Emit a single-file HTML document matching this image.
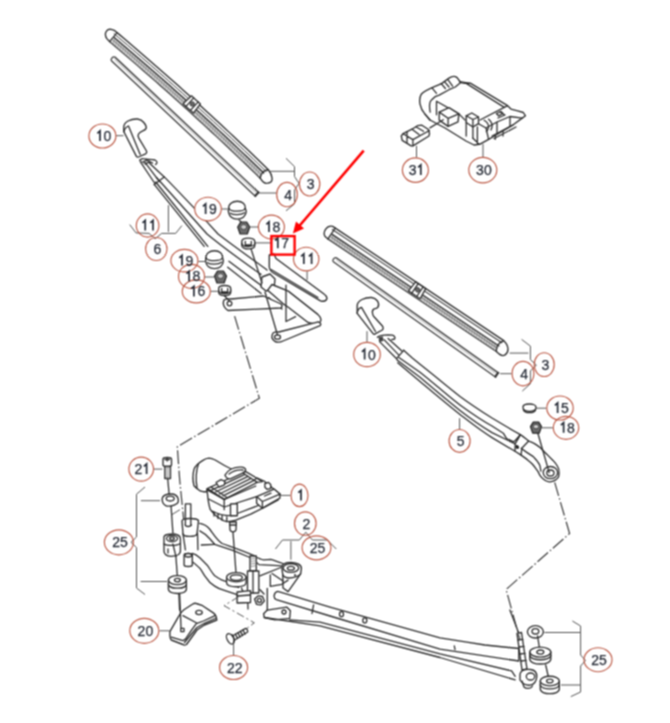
<!DOCTYPE html>
<html><head><meta charset="utf-8"><style>
html,body{margin:0;padding:0;background:#fff;}
svg{display:block;}
.lc{fill:none;stroke:#bc5a46;stroke-width:1.15;}
.lt{font-family:"Liberation Sans",sans-serif;font-size:14px;fill:#262b36;stroke:#262b36;stroke-width:0.25;text-anchor:middle;}
.l1{fill:none;stroke:#262b36;stroke-width:1.7;stroke-linejoin:miter;}
.ln{fill:none;stroke:#2e2e2e;stroke-width:1.3;stroke-linejoin:round;stroke-linecap:round;}
.hl{fill:none;stroke:#777;stroke-width:0.8;}
.wf{fill:#fff;stroke:#2e2e2e;stroke-width:1.35;stroke-linejoin:round;}
.ld{fill:none;stroke:#555;stroke-width:1;}
.dd{fill:none;stroke:#3a3a3a;stroke-width:1.2;stroke-dasharray:14 2.5 1.5 2.5;}
</style></head><body>
<svg width="670" height="723" viewBox="0 0 670 723">
<defs><filter id="soft" x="0" y="0" width="100%" height="100%" color-interpolation-filters="sRGB"><feConvolveMatrix order="3" kernelMatrix="1 2 1 2 4 2 1 2 1" divisor="16" edgeMode="duplicate"/></filter></defs>
<g filter="url(#soft)">
<rect width="670" height="723" fill="#fff"/>

<path class="wf" d="M424.8,113.9 C420,108 418,100 421.3,94.2 C425,90 432,88 441.9,83.4 L449,78.1 C452,76 455,76 457.1,77.6 L460.7,82.5 L465.1,83.4 L470.7,83.4 L507.6,105.7 L511,109.1 L517.7,110.8 L523.3,112.5 L525.5,115.8 L522.2,118.1 L513.2,124.8 L502,131.5 L488.6,139.3 L479.6,144.4 L474,145 L466,141 L445,128 L430,120 Z"/>
<path class="ln" d="M430.2,112.1 C429,106 430,101 432,99.5 C434,97 437,95.5 439.2,95.1 L449,89.7 L455.3,87 L460.7,82.5
M432,87.9 L436.5,93.3 M441,83.4 L445.4,88.5 M444.5,81.6 L449,87.0 M448.1,79.8 L452.6,86.1
M436.5,101.3 L458.9,113.9 L465.1,120.1 M436.5,101.3 L436.5,114.8 M424.8,113.9 L430,120
M466.2,83.4 L504.3,107.4 M459.5,81.7 L470.7,83.4 M504.3,107.4 L507.6,105.7
M504.3,107.4 L480,120 M500,112 L505,115 L498,118
M472.9,138.2 L479.6,144.4 M478.5,123.7 L486,128 L497,122 L510,116.5 L522.2,118.1
M486,128 L488.6,139.3 M497,122 L497,133 M510,116.5 L510,125.5 M477.4,127 L477.4,143.8"/>
<path class="wf" d="M439.2,112.1 L449,107.6 L458.9,113.9 L458,121.9 L448.1,126.4 L439.2,120.1 Z"/>
<path class="ln" d="M448.1,118.3 L448.1,126.4 M439.2,112.1 L448.1,118.3 L458.9,113.9"/>
<path class="wf" d="M466.2,115.8 L471.8,113 L478.5,117 L478.5,123.7 L472.9,127 L466.2,122.5 Z"/>
<path class="ln" d="M466.2,122.5 L466.2,136 M472.9,127 L472.9,138.2 M466.2,115.8 L472.9,119.5 L478.5,117 M472.9,119.5 L472.9,127"/>
<path class="ln" d="M429.9,127.9 L443.3,119.8"/>
<path class="wf" d="M401.3,136 L403.1,133.7 L412,129.2 L417.4,125.7 L421.9,125.2 L428.1,129.2 L429.5,133.3 L429,136 L412.9,145.8 L411.1,145.8 L402.2,140.4 Z"/>
<path class="ln" d="M403.1,133.7 L412.9,139.6 L429.5,130.5 M412.9,139.6 L412.9,145.8 M412,129.2 L419,134.5 M407,132 L407,142.5 M416.3,127 L423.5,131.3"/>
<path class="ln" d="M484.1,120.3 C487,122 488.6,124.5 488.6,127 C488.4,129 487.5,130.5 486.3,131.5 M488.6,119.2 C491,121 492.3,124 492,127 L491,130"/>
<path class="ln" d="M492,136 L513.2,124.8 M494,138.5 L516,127 M495.3,134.9 L495.3,139.3 M503,131.5 L503,136"/>
<path class="ln" d="M496.4,113.5 L501,111.5 L503,113.5 L498.5,115.8 Z"/>


<!-- hinge + front arm -->
<path class="ln" d="M139.8,160.7 C141,158.5 143,158.2 145,159 C148,159.4 152,159.2 155,160 C157.5,161 157.5,163.5 155.5,164.5 M143,162 C145,160 149,160 151,162.5 M146.5,163.5 C148,161.5 151,161.8 152.5,163"/>
<path class="ln" d="M140.4,161.9 L155.2,184 M144.6,161.9 L159.5,181.6 M149.3,163.1 L164,176.8 M154.1,184.6 L164.3,176.9"/>
<!-- main arm (curved) -->
<path class="ln" d="M164.3,176.9 C180,193 200,214 218,234 C235,247 252,259 267,270"/>
<path class="ln" d="M156.5,177.5 L207,234 C225,249 245,263 261,274.4 M155.7,182 L207.8,246.4 M154.4,184.6 L204.2,246.4"/>
<path class="ln" d="M228.9,261.3 L262.3,286.3 M227.7,267.2 L261.1,293.5"/>
<!-- pivot block -->
<path class="wf" d="M262,277 L270,274 L275,279 L274,288.7 L266,291 L261,287 Z"/>
<!-- bar 11 (upper) -->
<path class="wf" d="M269.3,255 L269.3,267 Q269.8,271 273.5,273 L320.5,300.8 Q325.5,302.5 327,298.5 Q326.5,295.5 324,294 L276,258.5 L274,254 Z"/>
<path class="ln" d="M271,269.5 L318,297.5"/>
<!-- arm end bar (lower) -->
<path class="wf" d="M272,284.5 L288.3,291.1 L317.8,314.4 Q322,318 320.5,321.5 Q318.5,324.5 314,323.8 L308,322.5 L288.3,307.2 L282.9,303.6 L267.7,290.2 Z"/>
<path class="ln" d="M268.6,297.4 L282,309"/>
<!-- vertical bracket lines -->
<path class="ln" d="M286,285.1 L286,321.5 L295.6,316.7"/>
<!-- pivot plate left -->
<path class="wf" d="M224,300 Q221.5,306 228,310.5 L281,308 Q283,306 281,304 L263.5,296 L231,299 Q226,298.5 224,300 Z"/>
<circle class="ln" cx="229.5" cy="303.5" r="2.3"/>
<!-- bottom plate -->
<path class="wf" d="M273,333 Q270,338 275,341.5 Q279,343 283,341 L320.1,325.7 Q322,323.5 318.3,321.8 L278.9,332 Q275.5,331.5 273,333 Z"/>
<ellipse class="ln" cx="277.5" cy="337" rx="3" ry="2.2"/>
<!-- rod lines -->
<path class="ln" d="M239,219.9 L241,222 M250.4,246.9 L262,283 M265,292 L277.5,335"/>
<path class="ln" d="M224.7,296 L229.5,301"/>
<g transform="translate(237.3,210.2) scale(1.0)"><path class="wf" d="M-8.5,-2 C-9,-6 -5,-9 0,-9 C5,-9 8.5,-6 8,-2 C9.5,1 9,4 6,7 C3,9.5 -3,9.5 -6,7 C-8.5,5 -9.5,1 -8.5,-2 Z"/><path class="ln" d="M-8.5,-2 C-7,2 7,2 8,-2 M-7,3 C-4,5 4,5 7,2.5"/></g>
<g transform="translate(243.7,228)"><path d="M-6,-1 L-3.0,-6 L3.0,-6 L6,-1 L3.5999999999999996,6 L-3.5999999999999996,6 Z" fill="#6a6a6a" stroke="#222" stroke-width="1.2" stroke-linejoin="round"/><ellipse cx="0" cy="-1" rx="3.0" ry="2.4000000000000004" fill="#ccc" stroke="#333" stroke-width="0.8"/></g>
<g transform="translate(248.3,243.5)"><path class="wf" d="M-6.5,-2 C-6.5,-6.5 6.5,-6.5 6.5,-2 L6.5,2 C6.5,6.5 -6.5,6.5 -6.5,2 Z" stroke-width="1.5"/><path class="ln" d="M-3,-2 L-3,1.5 L3,1.5 L3,-2 M-6.5,0 C-6.5,4 6.5,4 6.5,0" stroke-width="1.2"/></g>
<g transform="translate(214.5,259.7) scale(1.0)"><path class="wf" d="M-8.5,-2 C-9,-6 -5,-9 0,-9 C5,-9 8.5,-6 8,-2 C9.5,1 9,4 6,7 C3,9.5 -3,9.5 -6,7 C-8.5,5 -9.5,1 -8.5,-2 Z"/><path class="ln" d="M-8.5,-2 C-7,2 7,2 8,-2 M-7,3 C-4,5 4,5 7,2.5"/></g>
<g transform="translate(220.5,277)"><path d="M-6,-1 L-3.0,-6 L3.0,-6 L6,-1 L3.5999999999999996,6 L-3.5999999999999996,6 Z" fill="#6a6a6a" stroke="#222" stroke-width="1.2" stroke-linejoin="round"/><ellipse cx="0" cy="-1" rx="3.0" ry="2.4000000000000004" fill="#ccc" stroke="#333" stroke-width="0.8"/></g>
<g transform="translate(224.7,290.5)"><path class="wf" d="M-6,-2 C-6,-6 6,-6 6,-2 L6,2 C6,6 -6,6 -6,2 Z" stroke-width="1.5"/><path class="ln" d="M-3,-2 L-3,1.5 L3,1.5 L3,-2 M-6,0 C-6,4 6,4 6,0" stroke-width="1.2"/></g>


<path class="ln" d="M377.4,337.2 C379,335.5 382,335 388.1,334.8 C391,334.8 393.5,335.2 394.1,336 C395,337 395,338.5 394.7,339 L391.7,339.6"/>
<path d="M378.6,337 L383,336.6 L383.4,341 L379,342 Z" fill="#444"/>
<path class="ln" d="M379.8,341.9 L397.1,359.3 M384,339.6 L398.9,355.1 M388.1,338.4 L401.9,350.9 M396.5,358.7 L403.7,350.3"/>
<path class="ln" d="M403.7,350.3 L412,357.7 L420,364.2 C435,376 448,387 460,396.4 C471,404.5 481,411 492,418 C502,424 512,430 520.3,434.6"/>
<path class="ln" d="M398.9,357.5 L420,372.2 C435,384 448,396 460,405 C471,413 481,420 492,426 L503.3,433.2 L506.6,438.6 L513.9,441.9 L519.9,435.2"/>
<path class="ln" d="M397.1,359.9 L420,377.3 C435,390 448,401 460,410.5 C471,419 481,426 492,432.6 L515.2,443.9 L521.1,448.3"/>
<path class="ln" d="M397.7,362.8 L420,381.6 C435,394 448,405 460,414.5 C471,423 481,431 492,437.6 L515,451.3"/>
<path class="wf" d="M520.3,434.6 C524,437 526,439 528.7,441 C531,442 532,442.5 534,443.3 C536,444.5 538,446 540.1,447.5 C542,449.5 544,451.5 547,454.4 C549,456.5 551,458.5 553,460.4 C555,462.5 556.5,464.5 557.6,466.5 C558.8,468.5 559.3,470.5 559.1,472.6 C559,474.5 558.8,476 558.4,477.2 C557.5,478.5 556.5,479.5 555.3,480.2 C553.5,481.2 551,482 549.2,481.8 C547,481.5 545,480.5 543.9,479.5 C542.5,478.5 541,477 540.1,475.7 L537.8,471.1 C536,469 534.5,466.5 532.5,464.2 C531,462.5 529,461 526.4,458.9 L521.1,455.1 L515,451.3 L515.2,443.9 L517.3,439.9 Z"/>
<path class="ln" d="M521.1,448.3 L526.4,452.1 L533.3,456.6 C535,458.5 536.5,460 537.8,462 C539,463.5 539.8,465 540.1,466.5 L540.9,471.1"/>
<path class="ln" d="M520.3,434.6 L517.3,439.9 M528.7,441 L521.8,448.3 L521.1,455.1"/>
<path d="M516,445 C518,444.5 519.5,446 519,448 C518,449.5 516,449 515.5,447.5 Z" fill="#222"/>
<ellipse class="ln" cx="550.4" cy="472.6" rx="7.2" ry="6.1"/>
<ellipse class="ln" cx="550.4" cy="473" rx="3.6" ry="3"/>
<path class="ln" d="M537.8,433 L549.2,472.6"/>
<g transform="translate(529.5,408)"><path class="wf" d="M-6.5,-1 C-6.5,-5 6.5,-5 6.5,-1 L6,2 C5,5.5 -5,5.5 -6,2 Z" stroke-width="1.4"/><path class="ln" d="M-6,1.5 C-3,4 3,4 6,1.5"/></g>
<g transform="translate(536,427.6)"><path d="M-5.5,-1 L-2.75,-5.5 L2.75,-5.5 L5.5,-1 L3.3,5.5 L-3.3,5.5 Z" fill="#6a6a6a" stroke="#222" stroke-width="1.2" stroke-linejoin="round"/><ellipse cx="0" cy="-1" rx="2.75" ry="2.2" fill="#ccc" stroke="#333" stroke-width="0.8"/></g>


<!-- bolt 21 -->
<path class="wf" d="M163,459 C163,457 171.5,457 171.5,459 L171.5,465 C171.5,467 163,467 163,465 Z"/>
<path class="ln" d="M165,459.5 L169.5,459.5 M167.2,458 L167.2,461"/>
<path class="wf" d="M164.8,466.5 L170.5,466.5 L170.5,478.5 L164.8,478.5 Z"/>
<path class="hl" d="M164.8,469 L170.5,468 M164.8,471 L170.5,470 M164.8,473 L170.5,472 M164.8,475 L170.5,474 M164.8,477 L170.5,476"/>
<path class="ln" d="M167.7,478.5 L169.3,496"/>
<!-- grommet top left -->
<path class="wf" d="M162.2,498.4 C163,495 167,494 171.1,494 C174.5,494 177.5,495.5 178.3,499.3 C178.5,502 177.5,503.5 176.5,503.8 C174,506 168,506.8 165.7,505.6 C163.5,504.5 162,502 162.2,498.4 Z" stroke-width="1.6"/>
<ellipse class="ln" cx="170.2" cy="498.6" rx="4" ry="2.4"/>
<path class="ln" d="M171.1,506.5 L172.9,533"/>
<!-- rod/dash near -->
<!-- frame upper bar -->
<path class="ln" stroke-width="1.6" d="M199.8,523.4 C204,524 207,526 210,529.5 C214,535 217,540 222,543.5 C230,546.5 240,549.5 254.1,555.7 C258,558 261,559.5 263.7,559.9 L270.8,559.3 C275,560.5 278,562 283,563.5"/>
<path class="ln" stroke-width="1.6" d="M199.8,530.9 C204,533 207,535.5 210,539 L214.7,544.3 C224,547 238,552 250,557.5 C254,560 257,562.5 258.9,564.6 L282.8,565.8"/>
<path class="ln" d="M201.3,545 L214.7,544.3"/>
<!-- frame lower bar -->
<path class="ln" stroke-width="1.6" d="M192.3,553.3 C196,554 198,556 199.8,557.8 C203,561 205,563 207.2,565.2 C210,569 212,573 214.7,575.7 C218,578 220,579.5 222.2,580.1 C226,581.5 229,582 232.6,583.1 L238.6,587.6"/>
<path class="ln" stroke-width="1.6" d="M190.8,560.7 C195,563 197,566 199.8,568.2 C202,571 204,575 205.7,577.2 C208,581 211,584 214.7,586.1 C218,588.5 221,589.5 225.1,590.6 L238.6,595.1"/>
<!-- left mount block -->
<path class="wf" d="M164,537 C164,534.5 170,533.8 174,534 C178,534.5 180.4,536 180.4,539 L180.4,551 C180.4,554.5 176,556.3 171,556.3 C166,556 164,554 164,551 Z" stroke-width="1.4"/>
<ellipse class="ln" cx="172" cy="538.5" rx="5.5" ry="3" stroke-width="1.2"/>
<ellipse class="ln" cx="172" cy="538.5" rx="2.3" ry="1.4"/>
<path class="ln" d="M164,544 C167,546 177,546 180.4,543.5 M168,549 L168,553 M172.9,544 L175.9,556.3"/>
<!-- post / sleeve -->
<path class="wf" d="M182,521 C182,518 196,517.5 198.5,520.5 L197,534 C196,537 184,537.5 183,534 Z" stroke-width="1.3"/>
<path class="ln" d="M185.4,503.8 L185.4,524.4 M190.8,503.8 L190.8,524.4 M185.4,503.8 L190.8,503.8"/>
<path class="ln" d="M185,525 C186,527 190,527 191.5,525 M183,534 L185.4,549.8 M197.5,533 L197.9,549.8"/>
<path class="wf" d="M184.1,555 C184.1,553 192.3,553 192.3,555 L192.3,565 C192.3,567 184.1,567 184.1,565 Z"/>
<ellipse class="ln" cx="188.2" cy="555.2" rx="3.5" ry="1.8"/>
<path class="ln" d="M175.9,556.3 L177.4,577.2 M178.9,593.6 L179.6,610"/>
<g transform="translate(177.4,580.1)"><path class="wf" d="M-9,0 L-9,9 C-9,14.850000000000001 9,14.850000000000001 9,9 L9,0 Z" stroke-width="1.3"/><ellipse class="wf" cx="0" cy="0" rx="9" ry="4.5" stroke-width="1.3"/><ellipse class="ln" cx="0" cy="0" rx="3" ry="1.7999999999999998"/><path class="ln" d="M-9,4.05 C-9,9.45 9,9.45 9,4.05"/></g>
<!-- motor -->
<path class="wf" d="M194,485.8 C192.8,481 192.8,474 194,469.4 C195,466 197,464 202.9,460.4 C205,459 207,458.3 208.9,458.2 C211,458.3 213,459 215.2,460 C220,463 226,466.5 231.3,469 L240,476 L210,491 C205,492.5 200,491.5 198.4,489.6 C196,488 195,487 194,485.8 Z"/>
<path class="ln" d="M198.4,464.2 C196,470 195.5,480 197,487.3"/>
<!-- lower body -->
<path class="wf" d="M206.7,489.6 L207.4,493.3 C208,500 209,506 210.4,509.7 C213,513 215,515.5 217.9,517.2 C221,519.5 224,521 226.8,521.6 C230,521.8 233,521 235.8,520.1 L250.7,514.2 L265.6,506.7 L278.2,499.9 L279.9,494.1 L264,481 L257.3,478 L224.2,499.4 Z"/>
<!-- grille panel -->
<path class="wf" d="M207.2,488.6 L242.1,472.5 L257.3,482.4 L224.2,499.4 Z"/>
<path class="ln" d="M211.5,490.2 L245,474.4 M215.5,492 L248,476.4 M219.5,494 L251,478.4 M223,495.8 L254,480.4 M211,487 L227,497.5"/>
<path class="ln" d="M242.1,472.5 L245.8,471.6 L262.4,481.6 L257.3,482.4"/>
<!-- lens on top -->
<path class="wf" d="M225,475.2 C227,472 229,470 231.3,469 C234,467.8 238,467 241.2,467.2 C243.5,467.4 245.5,468.5 245.7,469.8 C245.5,471.5 244,472.5 242.1,473.4 L230.4,478.8 C228,479 226,477.5 225,475.2 Z"/>
<path class="ln" d="M229,474 C233,471 238,469.5 243,470"/>
<path class="wf" d="M216,482.5 L221,479.7 L225,481.5 L224.2,485.1 L219,487 Z"/>
<!-- box front / lower lines -->
<path class="ln" d="M207.2,488.6 L224.2,499.4 L224.2,509.7 M208.5,499 L224.2,507 M224.2,499.4 L255.8,486 M224.2,507 L256.6,496.6 M212,511 C220,515 226,516 232,515.5 L262.4,504 M226.8,521.6 L226.8,517 M214,512 L214,516 M218,514 L218,518.5 M222,515.5 L222,520"/>
<path class="wf" d="M264.9,483.5 L268.5,482.4 L270.7,484.5 L270.7,488.3 L267,489.3 L264.9,487.3 Z"/>
<path class="wf" d="M230.5,504 L237.3,503.7 L237.3,515.7 L230.5,515.7 Z"/>
<!-- connector plug -->
<path class="wf" d="M256.6,496.6 L274,489.1 L279.9,494.1 L279.9,498.2 L262.4,508.2 L256.6,503.2 Z"/>
<path class="ln" d="M256.6,496.6 L262.4,501.5 L279.9,494.1 M262.4,501.5 L262.4,508.2 M264.5,496 L271,493.2"/>
<path class="wf" d="M229.6,522 L236.3,522 L236,530 C235,532.5 231,532.5 230,530 Z"/>
<path class="ln" d="M230,525 L236,525 M233,532.4 L236.3,577"/>
<!-- crank hub cup -->
<path class="wf" d="M226.6,577 L226.6,583 C227,588 245.5,588 246,583 L246,577 Z"/>
<ellipse class="wf" cx="236.3" cy="577.2" rx="9.7" ry="4.6"/>
<ellipse class="ln" cx="236.3" cy="577.6" rx="6" ry="2.8"/>
<!-- stud -->
<path class="wf" d="M250,556 L256.3,556 L256.3,571 L250,571 Z"/>
<path class="hl" d="M250.5,559 L256.5,558 M250.5,561.5 L256.5,560.5 M250.5,564 L256.5,563 M250.5,566.5 L256.5,565.5"/>
<path class="wf" d="M247.5,571 L258.8,571 L258.8,593 L247.5,593 Z"/>
<path class="ln" d="M253,571 L253,593 M247.5,593 L248,609"/>
<!-- right mount pivot bush (2/25) -->
<path class="wf" d="M281.8,567.5 C281.8,564 286,562.3 291,562.3 C296,562.3 301.6,564.5 301.4,568.6 L300.6,573.8 L288.1,591.6 L283,588 L282.8,574.9 Z" stroke-width="1.3"/>
<path class="ln" d="M282.8,574.9 C284,577 287,578 289.1,578 C294,578 299,576 300.6,573.8"/>
<ellipse class="wf" cx="290.9" cy="568" rx="7.8" ry="4.3"/>
<ellipse class="ln" cx="290.9" cy="568.2" rx="3.5" ry="1.9"/>
<circle cx="295" cy="575" r="0.9" fill="#222"/>
<path class="ln" d="M259.9,575.9 L280.8,567.5 M270.3,574.9 L270.3,586.3 L281.8,584.3 L288.1,580.1 M272,573.5 L283,581"/>
<path class="ln" d="M241.5,588 L246,600 M260,589.7 L264,594"/>
<!-- left crank block -->
<path class="wf" d="M237.1,592 L250.5,590.6 L250.5,602.5 L237.1,603 Z"/>
<path class="ln" d="M237.1,596 L250.5,595"/>
<!-- hex nut near bar -->
<path class="wf" d="M254.6,599 L258,595.9 L262.5,596.5 L264.3,601 L261,604.9 L256.5,604.3 Z"/>
<circle class="ln" cx="259.4" cy="600.4" r="2"/>
<!-- long bar A -->
<path class="wf" d="M277.8,591.4 L330,607.1 L440,637.8 L466.9,642.2 L484.8,645 L518.8,648.5 L518.8,661 L440,649.1 L330,616 L276.3,599.6 C273,598.5 273.5,592 277.8,591.4 Z"/>
<path class="ln" d="M313.6,604.9 L312,613.5"/>
<ellipse class="ln" cx="341.5" cy="614.2" rx="2" ry="2.5"/>
<ellipse class="ln" cx="364.8" cy="620.4" rx="2" ry="2.5"/>
<path class="ln" d="M454.3,645.8 L455,649.5"/>
<!-- crank plate under bar start -->
<path class="wf" d="M263.6,613.8 L267.3,610.1 L286.7,607.1 L290.4,610.8 L289.7,618.3 L274.8,619.8 L264.3,617.5 Z"/>
<circle class="ln" cx="284" cy="612" r="2"/>
<path class="ln" d="M267.3,588.4 L267.3,610.1"/>
<!-- long bar B -->
<path class="ln" d="M289.7,619.8 L320,622.2 L440,653.9 L511.6,670.9 L515.2,676.3 M264.3,617.5 L320,625.8 L440,657.5 L515.2,679.9"/>
<!-- spindle right -->
<path class="ln" d="M509.9,610 L518.8,633.3"/>
<path class="wf" d="M517,633.3 L521.5,632.5 L527,669 L522,670 Z"/>
<path class="ln" d="M518,640 L522.8,639.3 M519,647 L524,646.3 M520,654 L525,653.3 M521,661 L526,660.3"/>
<!-- crank ball -->
<path class="wf" d="M520,675 C520,670 526,669 530.5,669.5 C535,670 537,673 536.7,677 C536.5,681 534,685 530,685.2 C525,685.5 522,683 520,680 Z" stroke-width="1.3"/>
<ellipse class="ln" cx="530.5" cy="676.5" rx="4.2" ry="3.5"/>
<path class="ln" d="M522,681 L524,687 C526,689 531,689 532.5,686"/>
<!-- right washers / grommets -->
<ellipse class="wf" cx="535.4" cy="631.8" rx="8" ry="6.2" stroke-width="1.5"/>
<ellipse class="ln" cx="535.4" cy="631.3" rx="3.4" ry="2.7"/>
<path class="ln" d="M537.6,636 L539.4,648"/>
<g transform="translate(540.3,652.1)"><path class="wf" d="M-10.5,0 L-10.5,7 C-10.5,13.5 10.5,13.5 10.5,7 L10.5,0 Z" stroke-width="1.3"/><ellipse class="wf" cx="0" cy="0" rx="10.5" ry="5" stroke-width="1.3"/><ellipse class="ln" cx="0" cy="0" rx="3.5" ry="2.1"/><path class="ln" d="M-10.5,3.15 C-10.5,9.15 10.5,9.15 10.5,3.15"/></g>
<path class="ln" d="M545.7,665 L548.4,677"/>
<g transform="translate(549.8,681)"><path class="wf" d="M-9.5,0 L-9.5,8 C-9.5,14.24 9.5,14.24 9.5,8 L9.5,0 Z" stroke-width="1.3"/><ellipse class="wf" cx="0" cy="0" rx="9.5" ry="4.8" stroke-width="1.3"/><ellipse class="ln" cx="0" cy="0" rx="3.2" ry="1.92"/><path class="ln" d="M-9.5,3.6 C-9.5,9.36 9.5,9.36 9.5,3.6"/></g>
<!-- pad 20 -->
<path class="wf" d="M169.9,631.7 L177.5,618.3 C180,614 182,611 184.7,609.3 L192.8,604 C194,603.3 195.5,603.2 196.3,603.5 L202.6,605.7 L213.3,612.9 C215,614 216,615.5 216.3,617 L216.8,620 L204.4,625 L197,630 L186.5,644.5 C185,645.3 183.5,645 182.9,644.5 L171.3,640 C170.2,639 170,637 169.9,636 Z"/>
<path class="ln" d="M171.3,637.1 L182.9,640.7 L185.6,638.9 L191,630.8 L196.3,623.6 L203.5,621 L215.1,615.6 M184.5,642.5 L191.5,634 L197,627.5 L204.4,623.3 L216.3,618 M182.9,615.6 L196.3,622.8"/>
<ellipse class="ln" cx="199" cy="612.5" rx="3.2" ry="2.1"/>
<path class="ln" d="M180.8,628.3 L184,628.3 L184,631.6 L180.8,631.6 Z"/>
<path class="ln" d="M179.6,593.6 L181,628"/>
<!-- bolt 22 -->
<path d="M238.7,596.7 L224,605.6 L254.3,622.8 L246,629.1" fill="none" stroke="#555" stroke-width="1" stroke-dasharray="8 3 2 3"/>
<path class="wf" d="M231.5,636.5 L245.2,628.6 C246.8,628 248,630.5 247.6,632 L234,640.5 Z"/>
<path class="ln" d="M235.5,634.2 L237.5,638.4 M238,632.8 L240,637 M240.5,631.4 L242.5,635.6 M243,630 L245,634.2"/>
<ellipse class="wf" cx="230.3" cy="638.8" rx="3.2" ry="5.6" transform="rotate(-28 230.3 638.8)" stroke-width="1.3"/>
<path class="ln" d="M231.8,634.5 C234,636 234.8,639.5 233.5,642.5"/>

<path class="wf" d="M106.81,38.61 C103.51,33.23 106.60,26.42 114.79,30.69 L119.45,34.62 L124.10,38.56 L128.75,42.51 L133.38,46.47 L138.01,50.44 L142.63,54.42 L147.24,58.41 L151.84,62.41 L156.43,66.42 L161.01,70.44 L165.59,74.46 L170.15,78.50 L174.71,82.55 L179.26,86.61 L183.80,90.67 L188.33,94.75 L192.85,98.83 L197.36,102.93 L201.87,107.03 L206.36,111.15 L210.85,115.27 L215.33,119.41 L219.80,123.55 L224.26,127.70 L228.71,131.87 L233.15,136.04 L237.59,140.22 L242.01,144.41 L246.43,148.61 L250.84,152.82 L255.24,157.05 L259.63,161.28 L264.01,165.52 L268.38,169.76 C272.71,175.38 274.06,182.59 268.05,183.00 C265.59,184.09 262.38,181.65 260.22,178.15 L255.80,173.85 L251.37,169.56 L246.93,165.29 L242.48,161.02 L238.02,156.76 L233.55,152.51 L229.08,148.28 L224.59,144.05 L220.10,139.83 L215.59,135.62 L211.08,131.42 L206.56,127.24 L202.03,123.06 L197.49,118.89 L192.94,114.73 L188.39,110.58 L183.82,106.44 L179.25,102.32 L174.66,98.20 L170.07,94.09 L165.47,89.99 L160.86,85.90 L156.24,81.82 L151.61,77.75 L146.97,73.69 L142.33,69.64 L137.67,65.60 L133.01,61.57 L128.33,57.55 L123.65,53.54 L118.96,49.54 L114.26,45.55 L109.55,41.57 Z"/>
<path d="M114.25,37.55 L118.92,41.50 L123.58,45.47 L128.23,49.44 L132.88,53.42 L137.52,57.41 L142.14,61.41 L146.76,65.42 L151.37,69.44 L155.97,73.46 L160.57,77.50 L165.15,81.55 L169.73,85.61 L174.29,89.68 L178.85,93.76 L183.40,97.84 L187.94,101.94 L192.47,106.05 L196.99,110.16 L201.50,114.29 L206.01,118.43 L210.50,122.57 L214.99,126.73 L219.47,130.89 L223.94,135.07 L228.40,139.25 L232.85,143.45 L237.29,147.65 L241.72,151.86 L246.15,156.09 L250.56,160.32 L254.97,164.56 L259.37,168.82 L263.76,173.08 L259.85,177.09 L255.47,172.84 L251.08,168.59 L246.68,164.36 L242.28,160.13 L237.86,155.92 L233.44,151.71 L229.00,147.52 L224.56,143.33 L220.11,139.16 L215.65,134.99 L211.18,130.83 L206.70,126.68 L202.21,122.55 L197.72,118.42 L193.21,114.30 L188.70,110.19 L184.18,106.09 L179.65,102.00 L175.11,97.93 L170.56,93.86 L166.00,89.80 L161.44,85.75 L156.86,81.70 L152.28,77.67 L147.69,73.65 L143.09,69.64 L138.48,65.64 L133.86,61.65 L129.23,57.66 L124.60,53.69 L119.95,49.73 L115.30,45.78 L110.63,41.83 Z" fill="#d2d2d2" stroke="none"/>
<path d="M114.88,38.35 L113.20,43.74 M117.17,40.29 L115.49,45.68 M119.46,42.23 L117.78,47.62 M121.75,44.17 L120.06,49.56 M124.04,46.12 L122.34,51.50 M126.32,48.07 L124.62,53.45 M128.61,50.02 L126.89,55.40 M130.89,51.97 L129.17,57.35 M133.16,53.92 L131.44,59.30 M135.44,55.88 L133.71,61.26 M137.71,57.84 L135.98,63.21 M139.98,59.80 L138.24,65.17 M142.25,61.77 L140.51,67.13 M144.52,63.73 L142.77,69.10 M146.79,65.70 L145.03,71.07 M149.05,67.67 L147.29,73.04 M151.31,69.65 L149.54,75.01 M153.57,71.62 L151.79,76.98 M155.82,73.60 L154.05,78.96 M158.08,75.58 L156.29,80.94 M160.33,77.56 L158.54,82.92 M162.58,79.55 L160.79,84.90 M164.83,81.54 L163.03,86.89 M167.08,83.53 L165.27,88.87 M169.32,85.52 L167.51,90.86 M171.56,87.51 L169.74,92.86 M173.80,89.51 L171.98,94.85 M176.04,91.51 L174.21,96.85 M178.27,93.51 L176.44,98.85 M180.51,95.51 L178.67,100.85 M182.74,97.52 L180.89,102.85 M184.97,99.53 L183.11,104.86 M187.19,101.54 L185.34,106.87 M189.42,103.55 L187.56,108.88 M191.64,105.57 L189.77,110.89 M193.86,107.59 L191.99,112.91 M196.08,109.61 L194.20,114.93 M198.30,111.63 L196.41,116.95 M200.51,113.65 L198.62,118.97 M202.72,115.68 L200.83,121.00 M204.93,117.71 L203.03,123.03 M207.14,119.74 L205.23,125.06 M209.35,121.78 L207.43,127.09 M211.55,123.81 L209.63,129.12 M213.75,125.85 L211.83,131.16 M215.95,127.89 L214.02,133.20 M218.15,129.94 L216.21,135.24 M220.34,131.98 L218.40,137.28 M222.54,134.03 L220.59,139.33 M224.73,136.08 L222.77,141.38 M226.91,138.13 L224.96,143.43 M229.10,140.19 L227.14,145.48 M231.29,142.25 L229.32,147.54 M233.47,144.31 L231.49,149.60 M235.65,146.37 L233.67,151.66 M237.83,148.44 L235.84,153.72 M240.00,150.50 L238.01,155.78 M242.18,152.57 L240.18,157.85 M244.35,154.64 L242.34,159.92 M246.52,156.72 L244.51,161.99 M248.68,158.79 L246.67,164.07 M250.85,160.87 L248.83,166.14 M253.01,162.95 L250.99,168.22 M255.17,165.04 L253.14,170.31 M257.33,167.12 L255.30,172.39 M259.49,169.21 L257.45,174.48" stroke="#8a8a8a" stroke-width="0.6" fill="none"/>
<path class="ln" d="M117.09,32.63 L109.55,41.57 M268.38,169.76 C264.00,169.96 260.51,173.55 260.22,178.15"/>
<path d="M113.75,33.48 L118.39,37.39 L123.01,41.31 L127.63,45.23 L132.23,49.17 L136.83,53.12 L141.42,57.08 L146.00,61.05 L150.58,65.02 L155.14,69.01 L159.70,73.01 L164.24,77.01 L168.78,81.03 L173.31,85.05 L177.83,89.09 L182.34,93.13 L186.85,97.18 L191.34,101.25 L195.83,105.32 L200.31,109.40 L204.77,113.49 L209.23,117.59 L213.69,121.70 L218.13,125.82 L222.56,129.95 L226.99,134.09 L231.41,138.24 L235.81,142.40 L240.21,146.57 L244.60,150.74 L248.99,154.93 L253.36,159.13 L257.73,163.33 L262.08,167.55 L266.43,171.77" stroke="#3a3a3a" stroke-width="1" fill="none"/>
<path class="ln" d="M114.25,37.55 L118.92,41.50 L123.58,45.47 L128.23,49.44 L132.88,53.42 L137.52,57.41 L142.14,61.41 L146.76,65.42 L151.37,69.44 L155.97,73.46 L160.57,77.50 L165.15,81.55 L169.73,85.61 L174.29,89.68 L178.85,93.76 L183.40,97.84 L187.94,101.94 L192.47,106.05 L196.99,110.16 L201.50,114.29 L206.01,118.43 L210.50,122.57 L214.99,126.73 L219.47,130.89 L223.94,135.07 L228.40,139.25 L232.85,143.45 L237.29,147.65 L241.72,151.86 L246.15,156.09 L250.56,160.32 L254.97,164.56 L259.37,168.82 L263.76,173.08"/>
<path d="M112.44,39.69 L117.11,43.64 L121.77,47.60 L126.42,51.56 L131.06,55.54 L135.69,59.53 L140.31,63.52 L144.93,67.53 L149.53,71.54 L154.13,75.57 L158.72,79.60 L163.29,83.65 L167.87,87.70 L172.43,91.77 L176.98,95.84 L181.52,99.92 L186.06,104.02 L190.58,108.12 L195.10,112.23 L199.61,116.35 L204.11,120.49 L208.60,124.63 L213.08,128.78 L217.56,132.94 L222.02,137.11 L226.48,141.29 L230.92,145.48 L235.36,149.68 L239.79,153.89 L244.21,158.11 L248.62,162.34 L253.03,166.58 L257.42,170.83 L261.81,175.09" stroke="#666" stroke-width="0.8" fill="none"/>
<path class="wf" d="M191.49,95.85 L195.95,99.89 L200.40,103.94 L193.39,113.11 L188.22,108.41 L183.04,103.72 Z"/>
<path class="ln" d="M193.72,97.87 L186.00,106.40 M198.18,101.91 L190.44,110.42"/>
<circle cx="192.26" cy="103.96" r="2.3" fill="#666" stroke="#333" stroke-width="0.8"/>
<g transform="translate(112,58) rotate(43.28)"><path d="M1.2,-2.6 L199.84806729112995,-2.6" stroke="#4a4a4a" stroke-width="1.6" fill="none"/>
<path d="M1.2,-2.6 C-0.6,-1.5 -0.4,2.2 1.5,2.4 L199.84806729112995,2.4" stroke="#3a3a3a" stroke-width="1.2" fill="none"/>
<path d="M3,-0.6 L196.84806729112995,-0.6" stroke="#b0b0b0" stroke-width="0.8" fill="none"/>
<path d="M197.64806729112996,-3.4 L199.84806729112995,-3.4 L199.84806729112995,3 L197.64806729112996,3 Z" fill="#333"/></g>
<g transform="translate(326,231) rotate(33.76)"><path class="wf" d="M2,5 C-2,3 -3,-5.6 3,-7.6 L208.7200036744442,-7.6 C215.7200036744442,-6.6 219.7200036744442,-1 217.7200036744442,3.5 C216.7200036744442,6 212.7200036744442,6.5 208.7200036744442,5.5 L6,5.5 Z"/>
<path d="M7,-0.6 L207.7200036744442,-0.6 L207.7200036744442,5 L7,5 Z" fill="#d2d2d2" stroke="none"/>
<path d="M8,-0.4 L10.2,4.8 M11,-0.4 L13.2,4.8 M14,-0.4 L16.2,4.8 M17,-0.4 L19.2,4.8 M20,-0.4 L22.2,4.8 M23,-0.4 L25.2,4.8 M26,-0.4 L28.2,4.8 M29,-0.4 L31.2,4.8 M32,-0.4 L34.2,4.8 M35,-0.4 L37.2,4.8 M38,-0.4 L40.2,4.8 M41,-0.4 L43.2,4.8 M44,-0.4 L46.2,4.8 M47,-0.4 L49.2,4.8 M50,-0.4 L52.2,4.8 M53,-0.4 L55.2,4.8 M56,-0.4 L58.2,4.8 M59,-0.4 L61.2,4.8 M62,-0.4 L64.2,4.8 M65,-0.4 L67.2,4.8 M68,-0.4 L70.2,4.8 M71,-0.4 L73.2,4.8 M74,-0.4 L76.2,4.8 M77,-0.4 L79.2,4.8 M80,-0.4 L82.2,4.8 M83,-0.4 L85.2,4.8 M86,-0.4 L88.2,4.8 M89,-0.4 L91.2,4.8 M92,-0.4 L94.2,4.8 M95,-0.4 L97.2,4.8 M98,-0.4 L100.2,4.8 M101,-0.4 L103.2,4.8 M104,-0.4 L106.2,4.8 M107,-0.4 L109.2,4.8 M110,-0.4 L112.2,4.8 M113,-0.4 L115.2,4.8 M116,-0.4 L118.2,4.8 M119,-0.4 L121.2,4.8 M122,-0.4 L124.2,4.8 M125,-0.4 L127.2,4.8 M128,-0.4 L130.2,4.8 M131,-0.4 L133.2,4.8 M134,-0.4 L136.2,4.8 M137,-0.4 L139.2,4.8 M140,-0.4 L142.2,4.8 M143,-0.4 L145.2,4.8 M146,-0.4 L148.2,4.8 M149,-0.4 L151.2,4.8 M152,-0.4 L154.2,4.8 M155,-0.4 L157.2,4.8 M158,-0.4 L160.2,4.8 M161,-0.4 L163.2,4.8 M164,-0.4 L166.2,4.8 M167,-0.4 L169.2,4.8 M170,-0.4 L172.2,4.8 M173,-0.4 L175.2,4.8 M176,-0.4 L178.2,4.8 M179,-0.4 L181.2,4.8 M182,-0.4 L184.2,4.8 M185,-0.4 L187.2,4.8 M188,-0.4 L190.2,4.8 M191,-0.4 L193.2,4.8 M194,-0.4 L196.2,4.8 M197,-0.4 L199.2,4.8 M200,-0.4 L202.2,4.8 M203,-0.4 L205.2,4.8" stroke="#8a8a8a" stroke-width="0.6" fill="none"/>
<path class="ln" d="M6,-7.6 L6,5.5 M208.7200036744442,-7.6 C205.7200036744442,-3 205.7200036744442,2 208.7200036744442,5.5"/>
<path d="M4,-4.8 L208.7200036744442,-4.8" stroke="#3a3a3a" stroke-width="1" fill="none"/>
<path class="ln" d="M7,-0.6 L207.7200036744442,-0.6"/>
<path d="M7,2.2 L207.7200036744442,2.2" stroke="#666" stroke-width="0.8" fill="none"/>
<path class="wf" d="M102.8600018372221,-7.5 L114.8600018372221,-7.5 L115.8600018372221,4 L101.8600018372221,4 Z"/>
<path class="ln" d="M105.8600018372221,-7.5 L105.8600018372221,4 M111.8600018372221,-7.5 L111.8600018372221,4"/>
<circle cx="108.8600018372221" cy="-2" r="2.3" fill="#666" stroke="#333" stroke-width="0.8"/></g>
<g transform="translate(333.5,259) rotate(35.39)"><path d="M1.2,-2.6 L201.1672189995179,-2.6" stroke="#4a4a4a" stroke-width="1.6" fill="none"/>
<path d="M1.2,-2.6 C-0.6,-1.5 -0.4,2.2 1.5,2.4 L201.1672189995179,2.4" stroke="#3a3a3a" stroke-width="1.2" fill="none"/>
<path d="M3,-0.6 L198.1672189995179,-0.6" stroke="#b0b0b0" stroke-width="0.8" fill="none"/>
<path d="M198.9672189995179,-3.4 L201.1672189995179,-3.4 L201.1672189995179,3 L198.9672189995179,3 Z" fill="#333"/></g>
<path class="wf" d="M123.7,128.5 C123.5,125 125,122.5 128,121 C131,119.5 134.5,118.8 137.5,119 C140,119.3 142.3,120.5 143.8,122.5 C145.5,124.5 146.6,126.5 146.2,128.3 C145.8,129.6 144.5,130.2 142.8,130.8 C141,131.5 139.5,132.5 138.5,134 C137.8,135.3 138,136.8 138.8,138.2 L146.2,150.5 C147,151.8 146.8,153.2 145.6,153.8 L138.5,157 C137.6,157.4 137,157.2 136.4,156.4 L123.9,131.8 Z"/>
<path class="ln" d="M123.9,131.8 C124.5,129 126,127 128.5,126 M128.5,126 L140.2,154.5"/>
<path class="wf" d="M357.2,306.1 C357,303 359,301 362,299.5 C365,298 368,297.4 371.5,297.5 C374,297.8 376,299 377.5,301 C378.8,303 379,305.5 377.8,307.5 C376.5,308.7 375,308.8 374.2,308.8 C372.8,309.5 372.2,311 372.4,312.5 C372.5,314 373,315.5 373.8,316.5 L382.2,325.8 C383.3,327 383.5,329 382.3,330 L375.1,333.9 C374.5,334.5 373.8,334.5 373.3,333.8 L357.2,313.3 Z"/>
<path class="ln" d="M357.2,313.3 C357.5,310 359,308 361.5,307.3 M361.5,307.3 L375.5,331.5"/>
<path class="dd" d="M234.6,316.2 L259.4,398.3 L177.3,446.8 L179.7,480 L183.6,519"/>
<path class="dd" d="M554.7,482.4 L569.6,533.5 L506.1,589.5 L519.8,639.4"/>
<ellipse cx="102.4" cy="136" rx="13.5" ry="12.0" fill="#fff"/>
<ellipse cx="309.6" cy="184" rx="10.2" ry="12.0" fill="#fff"/>
<ellipse cx="287" cy="194.5" rx="10.3" ry="12.2" fill="#fff"/>
<ellipse cx="208" cy="209" rx="13.3" ry="11.8" fill="#fff"/>
<ellipse cx="271.4" cy="227" rx="13.0" ry="11.9" fill="#fff"/>
<ellipse cx="147.6" cy="225.5" rx="11.3" ry="11.6" fill="#fff"/>
<ellipse cx="156.3" cy="249" rx="10.7" ry="11.5" fill="#fff"/>
<ellipse cx="306.2" cy="259" rx="12.7" ry="11.8" fill="#fff"/>
<ellipse cx="184.4" cy="260.6" rx="13.5" ry="11.3" fill="#fff"/>
<ellipse cx="191.5" cy="276.4" rx="13.0" ry="12.0" fill="#fff"/>
<ellipse cx="196.3" cy="291.4" rx="14.0" ry="11.5" fill="#fff"/>
<ellipse cx="415.4" cy="170.1" rx="13.0" ry="12.2" fill="#fff"/>
<ellipse cx="482.8" cy="170.1" rx="14.0" ry="12.7" fill="#fff"/>
<ellipse cx="367" cy="354.5" rx="13.3" ry="12.2" fill="#fff"/>
<ellipse cx="544.2" cy="364.6" rx="10.0" ry="11.9" fill="#fff"/>
<ellipse cx="523" cy="373.6" rx="10.9" ry="12.2" fill="#fff"/>
<ellipse cx="560" cy="408" rx="13.2" ry="12.0" fill="#fff"/>
<ellipse cx="566" cy="427.8" rx="12.7" ry="11.5" fill="#fff"/>
<ellipse cx="459.6" cy="440.9" rx="10.5" ry="11.4" fill="#fff"/>
<ellipse cx="141.2" cy="469.1" rx="12.3" ry="12.0" fill="#fff"/>
<ellipse cx="299.5" cy="495.4" rx="8.5" ry="11.2" fill="#fff"/>
<ellipse cx="305.3" cy="523.5" rx="10.8" ry="11.7" fill="#fff"/>
<ellipse cx="316.5" cy="547.8" rx="14.4" ry="12.0" fill="#fff"/>
<ellipse cx="118.9" cy="542.3" rx="14.5" ry="12.5" fill="#fff"/>
<ellipse cx="144.3" cy="630.8" rx="14.5" ry="12.5" fill="#fff"/>
<ellipse cx="233.6" cy="667.5" rx="14.0" ry="12.0" fill="#fff"/>
<ellipse cx="598" cy="659.7" rx="14.0" ry="12.0" fill="#fff"/>
<path class="ld" d="M116,135.7 L123.5,135.7 M270,171.3 L294,171.3 M286,158.3 L294.5,166.6 L294.5,176.5 L299,183.4 L294.5,190 L294.5,203.9 L286,210.8 M259.6,193 L276.5,193 M221.8,209 L229.5,209 M249.6,227 L258,227 M254.6,242.9 L271.4,242.9 M307.1,271.3 L307.1,280 M198.4,261.5 L205.6,261.5 M205,277 L214,277 M210.8,291.3 L218.7,291.3 M416.5,145.8 L416.5,157.4 M483,144 L483,157 M367,331.2 L367,341.8 M509.6,353.1 L528.4,353.1 M521.6,339.4 L530.4,346.1 L530.4,359.6 L536.4,365 L530.4,371 L530.4,383.7 L522.3,391.1 M500.2,373.7 L511.6,373.7 M535,408.2 L546.3,408.2 M541,427.8 L552.8,427.8 M459.6,418.2 L459.6,429 M154,469.1 L162.4,469.1 M280.1,495.4 L290.5,495.4 M275.4,549 L282.5,540 L299.3,540 L305.8,532.2 L312.4,540 L327.3,540 L336.3,549 M290.9,541.2 L290.9,559.7 M145,487 L136.5,494.2 L136.5,537 L131,542.3 L136.5,547.5 L136.5,588 L145,594.5 M140.9,500.7 L160,500.7 M140.6,581.5 L167,581.5 M159.5,630.8 L169.7,630.8 M233.6,643.9 L233.6,655 M544.5,632.5 L580.6,632.5 M561,685 L580.6,685 M572.4,621 L580.6,626 L580.6,655 L585.5,660.5 L580.6,666 L580.6,692 L570.8,696.6 M139,159.5 L146,165 M171.8,514.7 L179.9,509.7 M129.7,224.6 L136,232.9 L149,233.4 L155.3,238.7 L161.6,233.4 L175.7,233.4 L181.9,225.6 M168.4,205.2 L168.4,231.9"/>
<ellipse cx="102.4" cy="136" rx="13.5" ry="12.0" class="lc"/>
<ellipse cx="309.6" cy="184" rx="10.2" ry="12.0" class="lc"/>
<ellipse cx="287" cy="194.5" rx="10.3" ry="12.2" class="lc"/>
<ellipse cx="208" cy="209" rx="13.3" ry="11.8" class="lc"/>
<ellipse cx="271.4" cy="227" rx="13.0" ry="11.9" class="lc"/>
<ellipse cx="147.6" cy="225.5" rx="11.3" ry="11.6" class="lc"/>
<ellipse cx="156.3" cy="249" rx="10.7" ry="11.5" class="lc"/>
<ellipse cx="306.2" cy="259" rx="12.7" ry="11.8" class="lc"/>
<ellipse cx="184.4" cy="260.6" rx="13.5" ry="11.3" class="lc"/>
<ellipse cx="191.5" cy="276.4" rx="13.0" ry="12.0" class="lc"/>
<ellipse cx="196.3" cy="291.4" rx="14.0" ry="11.5" class="lc"/>
<ellipse cx="415.4" cy="170.1" rx="13.0" ry="12.2" class="lc"/>
<ellipse cx="482.8" cy="170.1" rx="14.0" ry="12.7" class="lc"/>
<ellipse cx="367" cy="354.5" rx="13.3" ry="12.2" class="lc"/>
<ellipse cx="544.2" cy="364.6" rx="10.0" ry="11.9" class="lc"/>
<ellipse cx="523" cy="373.6" rx="10.9" ry="12.2" class="lc"/>
<ellipse cx="560" cy="408" rx="13.2" ry="12.0" class="lc"/>
<ellipse cx="566" cy="427.8" rx="12.7" ry="11.5" class="lc"/>
<ellipse cx="459.6" cy="440.9" rx="10.5" ry="11.4" class="lc"/>
<ellipse cx="141.2" cy="469.1" rx="12.3" ry="12.0" class="lc"/>
<ellipse cx="299.5" cy="495.4" rx="8.5" ry="11.2" class="lc"/>
<ellipse cx="305.3" cy="523.5" rx="10.8" ry="11.7" class="lc"/>
<ellipse cx="316.5" cy="547.8" rx="14.4" ry="12.0" class="lc"/>
<ellipse cx="118.9" cy="542.3" rx="14.5" ry="12.5" class="lc"/>
<ellipse cx="144.3" cy="630.8" rx="14.5" ry="12.5" class="lc"/>
<ellipse cx="233.6" cy="667.5" rx="14.0" ry="12.0" class="lc"/>
<ellipse cx="598" cy="659.7" rx="14.0" ry="12.0" class="lc"/>
<path d="M97.32,133.30 L100.02,130.90 L100.02,141.00" class="l1"/>
<text x="107.39" y="141" class="lt">0</text>
<text x="310.70" y="189" class="lt">3</text>
<text x="288.10" y="199.5" class="lt">4</text>
<path d="M202.92,206.30 L205.62,203.90 L205.62,214.00" class="l1"/>
<text x="212.99" y="214" class="lt">9</text>
<path d="M266.32,224.30 L269.02,221.90 L269.02,232.00" class="l1"/>
<text x="276.39" y="232" class="lt">8</text>
<path d="M142.52,222.80 L145.22,220.40 L145.22,230.50" class="l1"/>
<path d="M150.30,222.80 L153.00,220.40 L153.00,230.50" class="l1"/>
<text x="157.40" y="254" class="lt">6</text>
<path d="M301.12,256.30 L303.82,253.90 L303.82,264.00" class="l1"/>
<path d="M308.90,256.30 L311.60,253.90 L311.60,264.00" class="l1"/>
<path d="M179.32,257.90 L182.02,255.50 L182.02,265.60" class="l1"/>
<text x="189.39" y="265.6" class="lt">9</text>
<path d="M186.42,273.70 L189.12,271.30 L189.12,281.40" class="l1"/>
<text x="196.49" y="281.4" class="lt">8</text>
<path d="M191.22,288.70 L193.92,286.30 L193.92,296.40" class="l1"/>
<text x="201.29" y="296.4" class="lt">6</text>
<text x="412.61" y="175.1" class="lt">3</text>
<path d="M418.10,167.40 L420.80,165.00 L420.80,175.10" class="l1"/>
<text x="480.01" y="175.1" class="lt">3</text>
<text x="487.79" y="175.1" class="lt">0</text>
<path d="M361.92,351.80 L364.62,349.40 L364.62,359.50" class="l1"/>
<text x="371.99" y="359.5" class="lt">0</text>
<path d="M275.12,240.50 L277.82,238.10 L277.82,248.20" class="l1"/>
<text x="285.19" y="248.2" class="lt">7</text>
<text x="545.30" y="369.6" class="lt">3</text>
<text x="524.10" y="378.6" class="lt">4</text>
<path d="M554.92,405.30 L557.62,402.90 L557.62,413.00" class="l1"/>
<text x="564.99" y="413" class="lt">5</text>
<path d="M560.92,425.10 L563.62,422.70 L563.62,432.80" class="l1"/>
<text x="570.99" y="432.8" class="lt">8</text>
<text x="460.70" y="445.9" class="lt">5</text>
<text x="138.41" y="474.1" class="lt">2</text>
<path d="M143.90,466.40 L146.60,464.00 L146.60,474.10" class="l1"/>
<path d="M298.31,492.70 L301.01,490.30 L301.01,500.40" class="l1"/>
<text x="306.40" y="528.5" class="lt">2</text>
<text x="313.71" y="552.8" class="lt">2</text>
<text x="321.49" y="552.8" class="lt">5</text>
<text x="116.11" y="547.3" class="lt">2</text>
<text x="123.89" y="547.3" class="lt">5</text>
<text x="141.51" y="635.8" class="lt">2</text>
<text x="149.29" y="635.8" class="lt">0</text>
<text x="230.81" y="672.5" class="lt">2</text>
<text x="238.59" y="672.5" class="lt">2</text>
<text x="595.21" y="664.7" class="lt">2</text>
<text x="602.99" y="664.7" class="lt">5</text>
<rect x="271.4" y="236.1" width="23.2" height="18.5" fill="none" stroke="#f00" stroke-width="2.4"/>
<path d="M363.7,150.7 L298,227.5" stroke="#f00" stroke-width="2.6" fill="none"/>
<path d="M292.9,233.6 L296,221.5 L304,228.5 Z" fill="#f00"/>
</g>
</svg>
</body></html>
